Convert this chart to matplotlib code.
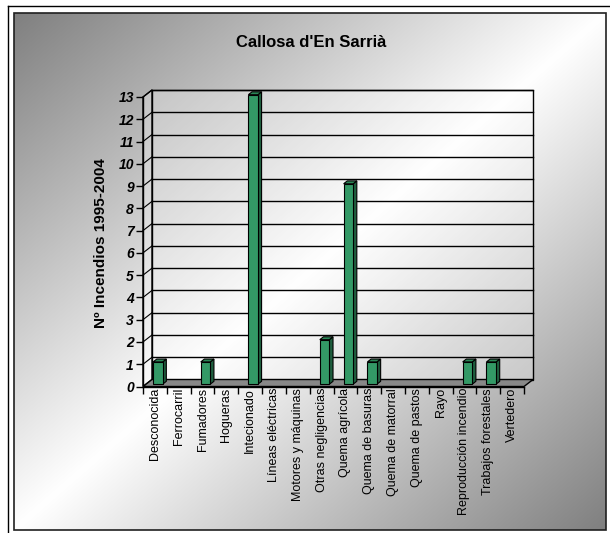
import numpy as np
import matplotlib
matplotlib.use('Agg')
import matplotlib.pyplot as plt
from matplotlib.patches import Polygon, Rectangle
from matplotlib import font_manager

categories = ["Desconocida", "Ferrocarril", "Fumadores", "Hogueras", "Intecionado",
              "Líneas eléctricas", "Motores y máquinas", "Otras negligencias",
              "Quema agrícola", "Quema de basuras", "Quema de matorral",
              "Quema de pastos", "Rayo", "Reproducción incendio",
              "Trabajos forestales", "Vertedero"]
values = [1, 0, 1, 0, 13, 0, 0, 2, 9, 1, 0, 0, 0, 1, 1, 0]
y_ticks = list(range(0, 14))
title = "Callosa d'En Sarrià"
ylabel = "Nº Incendios 1995-2004"

names = {f.name for f in font_manager.fontManager.ttflist}
base_font = 'Liberation Sans' if 'Liberation Sans' in names else 'DejaVu Sans'
plt.rcParams['font.family'] = [base_font, 'DejaVu Sans']

W, H = 610, 533
fig = plt.figure(figsize=(W / 100, H / 100), dpi=100)

# ---- background (decorative) ----
bg = fig.add_axes([0, 0, 1, 1])
bg.set_xlim(0, W)
bg.set_ylim(H, 0)
bg.axis('off')
x0, y0, x1, y1 = 14, 13, 606, 530
nx, ny = 400, 350
xx, yy = np.meshgrid(np.linspace(0, 1, nx), np.linspace(0, 1, ny))
t = (xx + yy) / 2
v = 1 - np.abs(2 * t - 1)
dark = 0.50
g = dark + (1 - dark) * v
img = np.dstack([g, g, g])
bg.imshow(img, extent=(x0, x1, y1, y0), interpolation='bilinear', aspect='auto', zorder=0)
bg.add_patch(Rectangle((x0, y0), x1 - x0, y1 - y0, fill=False, ec='#202020', lw=1.2, zorder=1))
bg.plot([8, 8], [6, H + 5], color='black', lw=1, zorder=1)
bg.plot([8, W + 5], [6, 6], color='black', lw=1, zorder=1)

# ---- main axes ----
left_px, right_px = 143, 524
top_px, bot_px = 97, 386.5
ax = fig.add_axes([left_px / W, (H - bot_px) / H, (right_px - left_px) / W, (bot_px - top_px) / H])
ax.set_xlim(-0.5, len(categories) - 0.5)
ax.set_ylim(0, 13)
ax.patch.set_visible(False)
for s in ['top', 'right', 'bottom']:
    ax.spines[s].set_visible(False)
ax.spines['left'].set_linewidth(1.0)

n = len(categories)
px_x = (right_px - left_px) / n
px_y = (bot_px - top_px) / 13
DX = 9 / px_x
DY = 7 / px_y
xa, xb = -0.5, n - 0.5

# back wall and side wall
ax.add_patch(Rectangle((xa + DX, DY), n, 13, fc=(1, 1, 1, 0.28), ec='black', lw=1.0,
                       clip_on=False, zorder=1))
ax.add_patch(Polygon([(xa, 0), (xa + DX, DY), (xa + DX, 13 + DY), (xa, 13)], closed=True,
                     fc=(1, 1, 1, 0.28), ec='black', lw=1.0, clip_on=False, zorder=1))
# gridlines
for tv in y_ticks[1:]:
    ax.plot([xa + DX, xb + DX], [tv + DY, tv + DY], color='black', lw=1.0, clip_on=False, zorder=1.2)
    ax.plot([xa, xa + DX], [tv, tv + DY], color='black', lw=0.8, clip_on=False, zorder=1.2)
# floor
ax.add_patch(Polygon([(xa, 0), (xb, 0), (xb + DX, DY), (xa + DX, DY)], closed=True,
                     fc='#888888', ec='black', lw=1.0, clip_on=False, zorder=1.5))

# bars
f1, f2 = 0.33, 0.74
bw = 0.40
xs = np.arange(n)
vals = np.array(values, dtype=float)
mask = vals > 0
front_c = '#339966'
side_c = '#1e5e3e'
top_c = '#2b8656'
for i, val in enumerate(values):
    if val <= 0:
        continue
    xl = xs[i] - bw / 2
    xr = xs[i] + bw / 2
    ax.add_patch(Polygon([(xr + f1 * DX, f1 * DY), (xr + f2 * DX, f2 * DY),
                          (xr + f2 * DX, val + f2 * DY), (xr + f1 * DX, val + f1 * DY)],
                         closed=True, fc=side_c, ec='black', lw=0.8, clip_on=False, zorder=3))
    ax.add_patch(Polygon([(xl + f1 * DX, val + f1 * DY), (xr + f1 * DX, val + f1 * DY),
                          (xr + f2 * DX, val + f2 * DY), (xl + f2 * DX, val + f2 * DY)],
                         closed=True, fc=top_c, ec='black', lw=0.8, clip_on=False, zorder=3))
ax.bar(xs[mask] + f1 * DX, vals[mask], width=bw, bottom=f1 * DY, color=front_c, edgecolor='black',
       linewidth=0.8, clip_on=False, zorder=3.1)

# y ticks
ax.set_yticks(y_ticks)
ax.set_yticklabels([str(t_) for t_ in y_ticks], fontsize=10, fontweight='bold', fontstyle='italic')
ax.tick_params(axis='y', direction='out', length=5, width=1, pad=1.5)

# x ticks
ax.set_xticks(np.arange(-0.5, n, 1.0))
ax.set_xticklabels([])
ax.tick_params(axis='x', which='major', direction='out', length=5, width=1)
ax.set_xticks(xs, minor=True)
ax.set_xticklabels(categories, minor=True, rotation=90, fontsize=9)
ax.tick_params(axis='x', which='minor', length=0, pad=1)
ax.plot([xa, xb], [0, 0], color='black', lw=1.0, clip_on=False, zorder=2)

# texts
fig.text(101 / W, 1 - 243 / H, ylabel, rotation=90, ha='center', va='center',
         fontsize=11, fontweight='bold')
fig.text(311.5 / W, 1 - 47 / H, title, ha='center', va='baseline', fontsize=12,
         fontweight='bold')

fig.savefig('out.png', dpi=100)
